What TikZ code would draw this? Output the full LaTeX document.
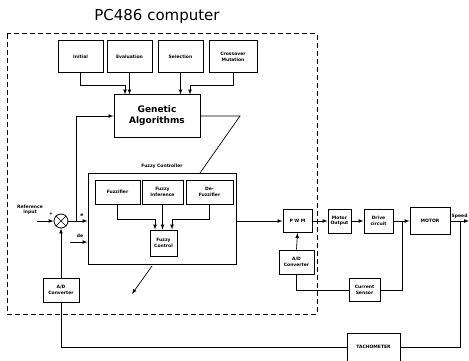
\documentclass[tikz,border=0pt]{standalone}
\usepackage{fontspec}
\setmainfont{DejaVu Sans}
\usepackage{tikz}
\usetikzlibrary{
calc,
shapes,
}
\tikzset{
	blk/.style={draw, line width=1pt, inner sep=0pt, align=center, font=\fontsize{4.5}{5.5}\selectfont\bfseries},
	lbl/.style={inner sep=0.5pt, align=center, font=\fontsize{4.5}{5.5}\selectfont\bfseries},
	wire/.style={line width=0.7pt},
}

\begin{document}
\begin{tikzpicture}[x=1pt, y=-1pt, >=latex]
				\useasboundingbox (0,0) rectangle (469,361);
				\node (title) at (157,16) {\fontsize{15}{16}\selectfont PC486 computer};
				\draw[dashed, line width=1pt, dash pattern=on 5pt off 3pt] (7,34) rectangle (317,314);
				\node[blk, minimum width=45pt, minimum height=32pt] (init) at (80.5,57) {Initial};
				\node[blk, minimum width=45pt, minimum height=32pt] (eval) at (129.5,57) {Evaluation};
				\node[blk, minimum width=45pt, minimum height=32pt] (sel) at (180.5,57) {Selection};
				\node[blk, minimum width=48pt, minimum height=32pt] (cross) at (233,57) {Crossover\\Mutation};
				\node[blk, minimum width=86pt, minimum height=42pt, font=\fontsize{9}{11}\selectfont\bfseries] (ga) at (157,116) {Genetic\\Algorithms};
				\node[blk, minimum width=148pt, minimum height=91pt] (fc) at (162,218.5) {};
				\node[lbl, above=3pt] (fclbl) at (fc.north) {Fuzzy Controller};
				\node[blk, minimum width=45pt, minimum height=24pt] (fuzz) at (117.5,192) {Fuzzifier};
				\node[blk, minimum width=41pt, minimum height=24pt] (inf) at (162.5,192) {Fuzzy\\Inference};
				\node[blk, minimum width=47pt, minimum height=24pt] (defuzz) at (209.5,192) {De-\\Fuzzifier};
				\node[blk, minimum width=27pt, minimum height=26pt] (fctl) at (163.5,243) {Fuzzy\\Control};
				\node[draw, line width=0.8pt, circle, minimum size=14pt, inner sep=0pt] (sum) at (61,221) {};
				\draw[wire] (sum.north west) -- (sum.south east);
				\draw[wire] (sum.north east) -- (sum.south west);
				\node[blk, minimum width=36pt, minimum height=24pt] (adc1) at (61,290) {A/D\\Converter};
				\node[blk, minimum width=29pt, minimum height=23pt] (pwm) at (297.5,221) {P W M};
				\node[blk, minimum width=35pt, minimum height=24pt] (adc2) at (296.5,262) {A/D\\Converter};
				\node[blk, minimum width=23pt, minimum height=24pt] (mout) at (339.5,221) {Motor\\Output};
				\node[blk, minimum width=29pt, minimum height=24pt] (drv) at (378.5,221) {Drive\\circuit};
				\node[blk, minimum width=40pt, minimum height=27pt] (motor) at (430,221) {MOTOR};
				\node[blk, minimum width=31pt, minimum height=23pt] (cs) at (364.5,290) {Current\\Sensor};
				\node[blk, minimum width=53pt, minimum height=28pt] (tach) at (373.5,347) {TACHOMETER};
				\coordinate (j1) at (125,85);
				\coordinate (j2) at (190,85);
				\coordinate (gt) at (240,116);
				\coordinate (gb) at (200,173);
				\coordinate (ref) at (37,221);
				\coordinate (ej) at (76,221);
				\coordinate (de) at (70,242);
				\coordinate (k1) at (155,219);
				\coordinate (k2) at (172,219);
				\coordinate (dj) at (402,221);
				\coordinate (sj) at (460,221);
				\coordinate (out) at (469,221);
				\coordinate (t1) at (152,266);
				\coordinate (t2) at (132,294);
				\draw[wire, ->] (init.south) |- (j1) -- (j1 |- ga.north);
				\draw[wire, ->] (eval.south) -- (eval.south |- ga.north);
				\draw[wire, ->] (sel.south) -- (sel.south |- ga.north);
				\draw[wire, ->] (cross.south) |- (j2) -- (j2 |- ga.north);
				\draw[wire] (ga.east) -- (gt) -- (gb);
				\draw[wire, ->] (ref) -- (sum.west);
				\node[lbl] (refin) at (30,210) {Reference\\input};
				\node[lbl] (plus) at (51,214) {+};
				\draw[wire, ->] (sum.east) -- (sum.east -| fc.west);
				\node[lbl] (elbl) at (82,215) {e};
				\draw[wire, ->] (ej) |- (ga.west);
				\draw[wire, ->] (de) -- (de -| fc.west);
				\node[lbl] (delbl) at (80,236) {de};
				\draw[wire, ->] (fuzz.south) |- (k1) -- (k1 |- fctl.north);
				\draw[wire, ->] (inf.south) -- (inf.south |- fctl.north);
				\draw[wire, ->] (defuzz.south) |- (k2) -- (k2 |- fctl.north);
				\draw[wire, ->] (t1) -- (t2);
				\draw[wire, ->] (adc1.north) -- (sum.south);
				\draw[wire] (adc1.south) |- (tach.west);
				\draw[wire] (tach.east) -| (sj);
				\draw[wire, ->] (fc.east |- pwm.west) -- (pwm.west);
				\draw[wire, ->] (adc2.north) -- (pwm.south);
				\draw[wire, ->] (pwm.east) -- (mout.west);
				\draw[wire, ->] (mout.east) -- (drv.west);
				\draw[wire, ->] (drv.east) -- (motor.west);
				\draw[wire] (adc2.south) |- (cs.west);
				\draw[wire] (cs.east) -| (dj);
				\draw[wire, ->] (motor.east) -- (out);
				\node[lbl, anchor=south west] (spd) at (451,219) {Speed};
			\end{tikzpicture}
\end{document}
